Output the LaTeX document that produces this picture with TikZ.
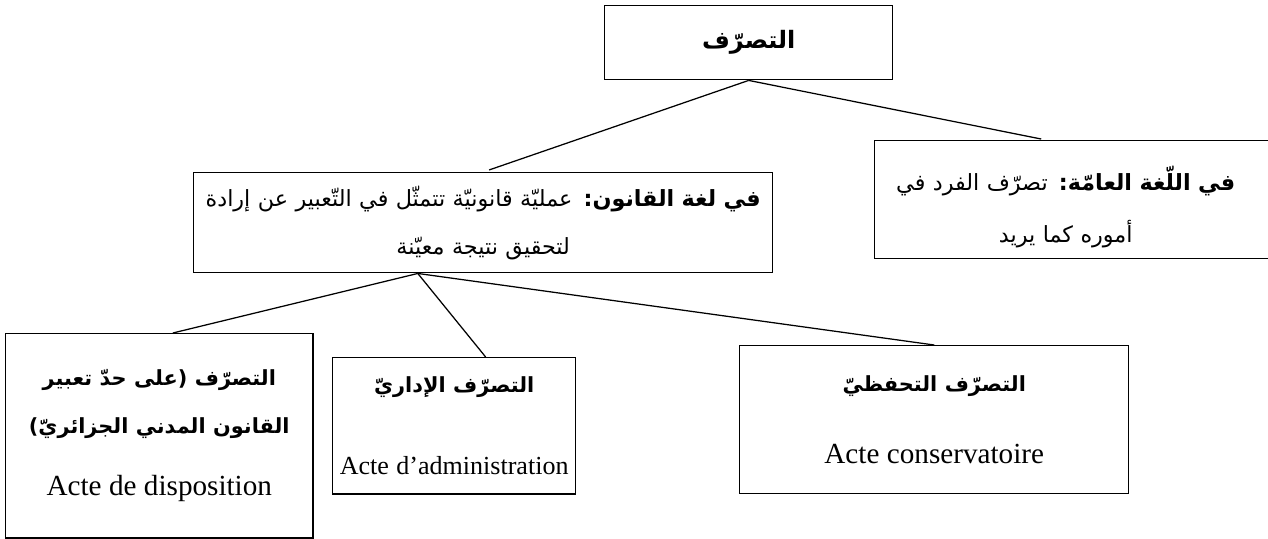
\documentclass[tikz,border=0pt]{standalone}
\usepackage{fontspec}
\setmainfont{Liberation Serif}
\newfontfamily\arabicfont[Script=Arabic]{DejaVu Sans}
\TeXXeTstate=1
\usepackage{tikz}
\tikzset{
  box/.style={draw,line width=0.7pt,anchor=north west,align=center,inner sep=0pt,
    font=\fontsize{10.7}{23}\selectfont},
  every edge/.style={draw,line width=0.6pt},
}
\newcommand{\ar}[1]{{\arabicfont\beginR #1\endR}}
\newcommand{\arb}[2][10]{{\arabicfont\bfseries\fontsize{#1}{23}\selectfont\beginR #2\endR}}
\newcommand{\fr}[2][14]{{\fontsize{#1}{16}\selectfont #2}}

\begin{document}
\begin{tikzpicture}[x=0.48pt,y=-0.48pt]
      \useasboundingbox (0,0) rectangle (1268,539);
      \clip (0,0) rectangle (1268,539);

      \node[box,minimum width=138.2pt,minimum height=35.5pt] (top) at (604,5)
        {\arb[11.5]{التصرّف}};
      \node[box,text width=201.6pt,minimum height=56.6pt,align=left,
            font=\fontsize{10.7}{25}\selectfont] (gen) at (874,140)
        {\rule{0pt}{19pt}\makebox[183.4pt]{\ar{\textbf{في اللّغة العامّة:} تصرّف الفرد في}}\\
         \makebox[183.4pt]{\ar{أموره كما يريد}}};
      \node[box,text width=277.9pt,minimum height=48pt] (law) at (193,172)
        {\ar{\textbf{في لغة القانون:} عمليّة قانونيّة تتمثّل في التّعبير عن إرادة}\\
         \ar{لتحقيق نتيجة معيّنة}};
      \node[box,text width=147.4pt,minimum height=98pt] (disp) at (5,333)
        {\arb{التصرّف (على حدّ تعبير}\\ \arb{القانون المدني الجزائريّ)}\\[7pt]
         \fr{Acte de disposition}};
      \node[box,text width=116.6pt,minimum height=65.3pt] (admin) at (332,357)
        {\arb{التصرّف الإداريّ}\\[16pt] \fr[12.5]{Acte d’administration}};
      \node[box,text width=186.7pt,minimum height=71pt] (cons) at (739,345)
        {\arb{التصرّف التحفظيّ}\\[12pt] \fr{Acte conservatoire}};

      \path (top.south) edge[shorten >=3pt] (law.north);
      \path (top.south) edge[shorten >=2.4pt] ([xshift=82.6pt]gen.north west);
      \path ([xshift=-31.4pt]law.south) edge ([xshift=6.5pt]disp.north)
        edge ([xshift=15.1pt]admin.north)
        edge (cons.north);
\end{tikzpicture}
\end{document}
